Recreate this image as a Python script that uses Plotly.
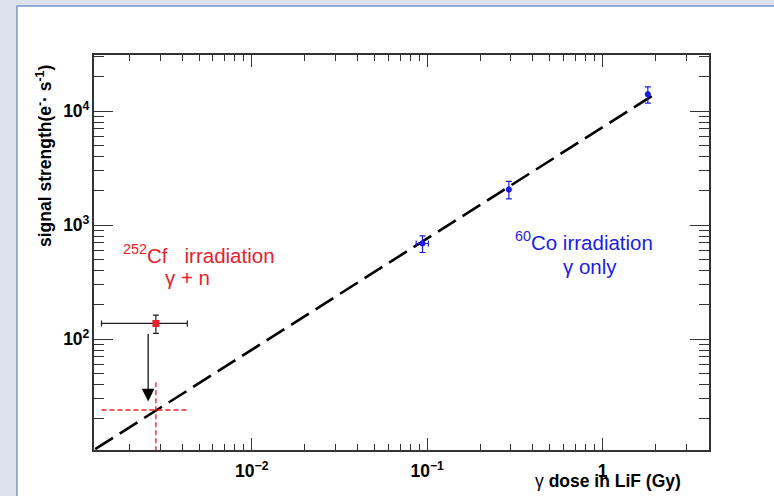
import numpy as np
import plotly.graph_objects as go

# ---- data ----
co_dose = [0.094, 0.292, 1.81]          # 60Co irradiation, Gy
co_signal = [690, 2060, 14100]          # e-/s
co_dose_err = [0.0075, 0.0, 0.0]
co_signal_err = [115, 360, 2300]

cf_dose = [0.00284]                     # 252Cf irradiation
cf_signal = [137]
cf_dose_err = [0.00145]
cf_signal_err = [25]

cf_gamma_signal = [23.8]                # gamma-only share of the Cf signal
cf_gamma_signal_err = [18.4]

fit_dose = [0.00128, 1.92]              # power-law fit line end points
fit_signal = [10.8, 13700]

arrow_dose = 0.002565
arrow_from = 114
arrow_to = 28.3

x_range = [0.00126, 4.04]
y_range = [10.6, 31200]

RED = "#e8202c"
BLUE = "#1c1ce6"
FONT = "Liberation Sans"

fig = go.Figure()

# fit line
fig.add_trace(go.Scatter(
    x=fit_dose, y=fit_signal, mode="lines",
    line=dict(color="black", width=2.6, dash="21px,8px"),
    showlegend=False, hoverinfo="skip"))

# dashed red cross (gamma part of the Cf point)
d, e = cf_dose[0], cf_dose_err[0]
s, se = cf_gamma_signal[0], cf_gamma_signal_err[0]
fig.add_trace(go.Scatter(
    x=[d - e, d + e], y=[s, s], mode="lines",
    line=dict(color=RED, width=1.3, dash="5px,3px"),
    showlegend=False, hoverinfo="skip"))
fig.add_trace(go.Scatter(
    x=[d, d], y=[s - se, s + se], mode="lines",
    line=dict(color=RED, width=1.3, dash="5px,3px"),
    showlegend=False, hoverinfo="skip"))

# Cf point
fig.add_trace(go.Scatter(
    x=cf_dose, y=cf_signal, mode="markers",
    marker=dict(symbol="square", size=7, color=RED),
    error_x=dict(type="data", array=cf_dose_err, color="#222", thickness=1.2, width=3),
    error_y=dict(type="data", array=cf_signal_err, color="#222", thickness=1.2, width=3),
    showlegend=False))

# Co points
fig.add_trace(go.Scatter(
    x=co_dose, y=co_signal, mode="markers",
    marker=dict(symbol="circle", size=6, color=BLUE),
    error_x=dict(type="data", array=co_dose_err, color=BLUE, thickness=1.2, width=3),
    error_y=dict(type="data", array=co_signal_err, color=BLUE, thickness=1.2, width=3),
    showlegend=False))

# plot-area geometry (pixels) used for placing text
L, R, T, B = 94, 709, 55, 450
W, H = R - L, B - T
def px(x):
    return (x - L) / W
def py(y):
    return (B - y) / H

axis_common = dict(
    type="log", showgrid=False, zeroline=False,
    showline=True, linecolor="#333", linewidth=1.5, mirror="ticks",
    ticks="inside", tickcolor="#333", tickwidth=1.3,
    dtick=1, exponentformat="power",
    tickfont=dict(family=FONT, size=14, color="black", weight="bold"),
)

fig.update_layout(
    width=774, height=496,
    margin=dict(l=L, r=774 - R, t=T, b=496 - B),
    paper_bgcolor="#dce2ec", plot_bgcolor="white",
    font=dict(family=FONT),
    xaxis=dict(range=[np.log10(x_range[0]), np.log10(x_range[1])], ticklen=12,
               ticklabelstandoff=5,
               minor=dict(ticks="inside", ticklen=6, dtick="D1", tickcolor="#333", tickwidth=1.2),
               **axis_common),
    yaxis=dict(range=[np.log10(y_range[0]), np.log10(y_range[1])], ticklen=19,
               minor=dict(ticks="inside", ticklen=10, dtick="D1", tickcolor="#333", tickwidth=1.2),
               **axis_common),
    shapes=[dict(type="rect", xref="paper", yref="paper",
                 x0=px(17), x1=px(790), y0=py(510), y1=py(6),
                 fillcolor="white", line=dict(color="#7a95cc", width=1.5), layer="below")],
)

ann = [
    dict(text="<sup>252</sup>Cf   irradiation", x=px(121), y=py(254), xanchor="left", yanchor="middle",
         font=dict(color=RED, size=20.5, family=FONT)),
    dict(text="γ + n", x=px(187), y=py(277), xanchor="center", yanchor="middle",
         font=dict(color=RED, size=20.5, family=FONT)),
    dict(text="<sup>60</sup>Co irradiation", x=px(513), y=py(241), xanchor="left", yanchor="middle",
         font=dict(color=BLUE, size=20.5, family=FONT)),
    dict(text="γ only", x=px(590), y=py(266), xanchor="center", yanchor="middle",
         font=dict(color=BLUE, size=20.5, family=FONT)),
    dict(text="γ <b>dose in LiF (Gy)</b>", x=px(683), y=py(481), xanchor="right", yanchor="middle",
         font=dict(color="black", size=17.5, family=FONT)),
    dict(text="<b>signal strength(e<sup>-</sup>· s<sup>-1</sup>)</b>", x=px(44), y=py(156),
         xanchor="center", yanchor="middle", textangle=-90,
         font=dict(color="black", size=17.5, family=FONT)),
]
for a in ann:
    a.update(xref="paper", yref="paper", showarrow=False)

ann.append(dict(
    x=np.log10(arrow_dose), y=np.log10(arrow_to), xref="x", yref="y",
    ax=np.log10(arrow_dose), ay=np.log10(arrow_from), axref="x", ayref="y",
    text="", showarrow=True, arrowhead=2, arrowsize=2.1, arrowwidth=1.2, arrowcolor="black"))

fig.update_layout(annotations=ann)

fig.write_html("out.html")
